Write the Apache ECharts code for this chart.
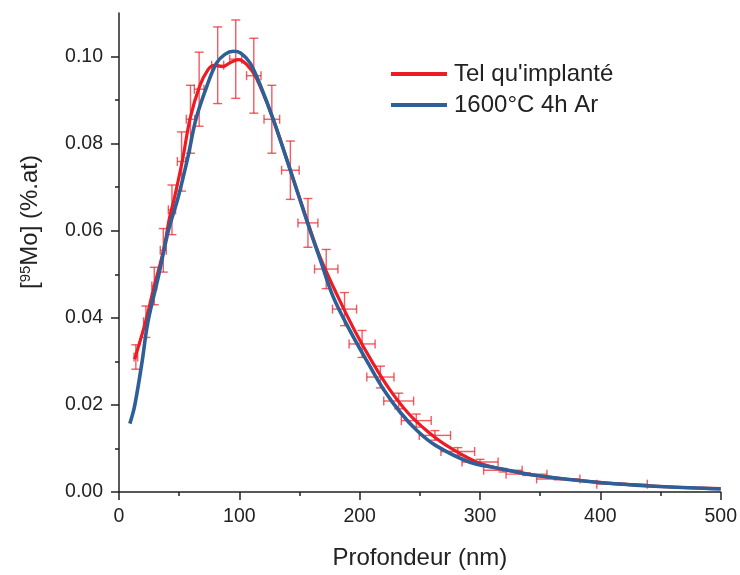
<!DOCTYPE html>
<html><head><meta charset="utf-8">
<script src="https://cdn.jsdelivr.net/npm/echarts@6/dist/echarts.min.js"></script>
<style>html,body{margin:0;padding:0;background:#fff}#c{width:740px;height:575px}</style>
</head><body><div id="c"></div>
<script>
const seriesNames = ["Tel qu'implanté", "1600°C 4h Ar"];

// Smooth profile, as-implanted (red)
const asImplX = [13, 22, 29, 37, 42, 46, 53, 59, 67, 74, 79, 86, 92, 99, 106, 114, 128, 142, 157, 167, 182, 196, 211, 225, 240, 256, 272, 297, 316, 344, 399, 454, 500];
const asImplY = [0.0305, 0.039, 0.047, 0.0555, 0.063, 0.0675, 0.0766, 0.0857, 0.0932, 0.097, 0.098, 0.0977, 0.0985, 0.0993, 0.0982, 0.0951, 0.0857, 0.0742, 0.0618, 0.054, 0.0448, 0.037, 0.0296, 0.0235, 0.0182, 0.014, 0.0107, 0.0069, 0.0054, 0.0039, 0.0022, 0.0012, 0.0008];

// Smooth profile, 1600°C 4h Ar (blue)
const annealX = [9, 13, 19, 24, 33, 41, 49, 57, 64, 73, 81, 88, 95, 101, 109, 118, 128, 142, 157, 167, 178, 192, 207, 220, 234, 248, 263, 291, 316, 344, 399, 454, 500];
const annealY = [0.0157, 0.0198, 0.0296, 0.039, 0.0498, 0.06, 0.0675, 0.0766, 0.0857, 0.0932, 0.0985, 0.1005, 0.1012, 0.1008, 0.0985, 0.093, 0.0857, 0.0742, 0.0615, 0.0535, 0.0448, 0.037, 0.0296, 0.0235, 0.0182, 0.014, 0.0107, 0.0069, 0.0054, 0.0039, 0.0022, 0.0012, 0.0007];

// Measured points with error bars (as-implanted)
const ptX    = [14, 22.4, 29.3, 36.8, 44, 52, 59.4, 66.6, 82, 97, 112, 127, 142.4, 157, 172.2, 187.4, 202, 217.2, 232.4, 247, 262.5, 281.5, 300, 319, 338.6, 365, 418];
const ptY    = [0.031, 0.0391, 0.0473, 0.0555, 0.0648, 0.0759, 0.0856, 0.0925, 0.098, 0.0994, 0.0956, 0.0856, 0.0739, 0.0618, 0.0512, 0.042, 0.034, 0.0264, 0.0209, 0.0164, 0.013, 0.0093, 0.0069, 0.005, 0.0041, 0.003, 0.0018];
const ptXErr = [1.5, 2, 2, 2.5, 3, 3.5, 3.5, 4, 5, 5, 6, 6.5, 7.3, 8.3, 9.7, 10, 10.8, 11.3, 12.4, 12.4, 13, 14, 15, 16, 17, 18, 21];
const ptYErr = [0.0028, 0.0036, 0.0043, 0.005, 0.0057, 0.0068, 0.0078, 0.0085, 0.0088, 0.009, 0.0086, 0.0078, 0.0067, 0.0056, 0.0045, 0.0038, 0.0031, 0.0025, 0.0018, 0.0015, 0.0011, 0.0009, 0.0006, 0.0004, 0.0003, 0.0002, 0.0002];

const yMajorTicks = [0, 0.02, 0.04, 0.06, 0.08, 0.10];
const yMinorTicks = [0.01, 0.03, 0.05, 0.07, 0.09];

const RED = '#ED1C24';
const BLUE = '#2E6097';
const AX = '#222222';
const FONT = 'Liberation Sans, Arial, sans-serif';

const chart = echarts.init(document.getElementById('c'), null, {renderer: 'canvas'});

const errData = ptX.map((x, i) => [x, ptY[i], ptXErr[i], ptYErr[i]]);

const option = {
  backgroundColor: '#ffffff',
  animation: false,
  textStyle: {fontFamily: FONT},
  grid: {left: 119, right: 18, top: 13, bottom: 78, containLabel: false},
  legend: {
    data: seriesNames,
    orient: 'vertical',
    left: 386, top: 57,
    icon: 'rect',
    itemWidth: 56, itemHeight: 4,
    itemGap: 7,
    textStyle: {fontSize: 24, color: AX, fontFamily: FONT, padding: [0, 0, 0, 2]}
  },
  xAxis: {
    type: 'value', min: 0, max: 500, interval: 100,
    name: 'Profondeur (nm)', nameLocation: 'middle', nameGap: 54,
    nameTextStyle: {fontSize: 24, color: AX, fontFamily: FONT},
    axisLine: {show: true, lineStyle: {color: AX, width: 1.5}},
    axisTick: {show: true, inside: false, length: 8, lineStyle: {color: AX, width: 1.5}},
    minorTick: {show: true, splitNumber: 2, length: 4, lineStyle: {color: AX, width: 1.5}},
    axisLabel: {fontSize: 19.5, color: AX, margin: 15, fontFamily: FONT},
    splitLine: {show: false}
  },
  yAxis: [{
    type: 'value', min: 0, max: 0.11,
    axisLine: {show: true, onZero: false, lineStyle: {color: AX, width: 1.5}},
    axisTick: {show: true, inside: false, length: 8, customValues: yMajorTicks, lineStyle: {color: AX, width: 1.5}},
    axisLabel: {customValues: yMajorTicks, fontSize: 19.5, color: AX, margin: 16, fontFamily: FONT,
      formatter: v => v.toFixed(2)},
    splitLine: {show: false}
  }, {
    type: 'value', min: 0, max: 0.11, position: 'left',
    axisLine: {show: false},
    axisTick: {show: true, inside: false, length: 4, customValues: yMinorTicks, lineStyle: {color: AX, width: 1.5}},
    axisLabel: {show: false},
    splitLine: {show: false}
  }],
  graphic: [{
    type: 'text',
    x: 30, y: 222,
    rotation: Math.PI / 2,
    style: {
      text: '[{sup|95}Mo] (%.at)',
      fontSize: 24, fontFamily: FONT, fill: AX,
      align: 'center', verticalAlign: 'middle',
      rich: {sup: {fontSize: 15, fontFamily: FONT, fill: AX, verticalAlign: 'top', lineHeight: 15}}
    }
  }],
  series: [{
    type: 'custom',
    name: 'errors',
    xAxisIndex: 0, yAxisIndex: 0,
    data: errData,
    encode: {x: 0, y: 1},
    z: 1,
    renderItem: function (params, api) {
      const x = api.value(0), y = api.value(1), dx = api.value(2), dy = api.value(3);
      const c = api.coord([x, y]);
      const t = api.coord([x, y + dy]);
      const b = api.coord([x, y - dy]);
      const l = api.coord([x - dx, y]);
      const r = api.coord([x + dx, y]);
      const cap = 4.5;
      const st = {stroke: RED, lineWidth: 1.4, opacity: 0.72};
      const ln = (x1, y1, x2, y2) => ({type: 'line', shape: {x1, y1, x2, y2}, style: st});
      return {type: 'group', children: [
        ln(c[0], t[1], c[0], b[1]),
        ln(c[0] - cap, t[1], c[0] + cap, t[1]),
        ln(c[0] - cap, b[1], c[0] + cap, b[1]),
        ln(l[0], c[1], r[0], c[1]),
        ln(l[0], c[1] - cap, l[0], c[1] + cap),
        ln(r[0], c[1] - cap, r[0], c[1] + cap)
      ]};
    }
  }, {
    type: 'line', name: seriesNames[0],
    data: asImplX.map((x, i) => [x, asImplY[i]]),
    smooth: 0.35, showSymbol: false, symbol: 'none',
    lineStyle: {color: RED, width: 3.2}, itemStyle: {color: RED},
    z: 3
  }, {
    type: 'line', name: seriesNames[1],
    data: annealX.map((x, i) => [x, annealY[i]]),
    smooth: 0.35, showSymbol: false, symbol: 'none',
    lineStyle: {color: BLUE, width: 3.6}, itemStyle: {color: BLUE},
    z: 4
  }]
};
chart.setOption(option);
</script>
</body></html>
